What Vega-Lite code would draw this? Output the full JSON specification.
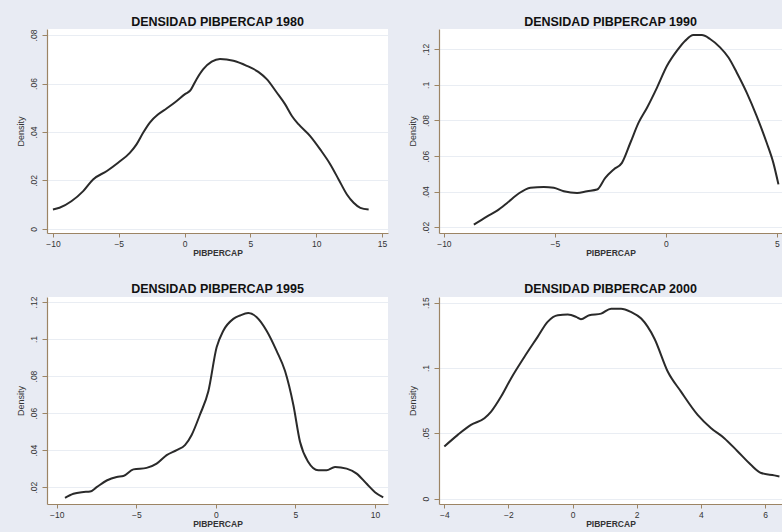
{
  "$schema": "https://vega.github.io/schema/vega-lite/v6.json",
  "background": "#e8ebf3",
  "padding": {"left": 16, "top": 15, "right": 40, "bottom": 40},
  "config": {
    "view": {"stroke": null, "fill": "white"},
    "title": {"font": "Liberation Sans", "fontSize": 12.5, "fontWeight": "bold", "color": "#111111", "offset": 1, "baseline": "alphabetic", "anchor": "middle", "frame": "group"},
    "axis": {"domainColor": "#9c8464", "tickColor": "#9c8464", "domainWidth": 1.2, "tickWidth": 1, "labelColor": "#333333", "labelFont": "Liberation Sans", "labelFontSize": 8.5, "titleFont": "Liberation Sans", "titleFontSize": 9, "titleFontWeight": "normal", "titleColor": "#333333", "grid": false},
    "axisX": {"tickSize": 4, "labelPadding": 2, "titlePadding": 1, "titleFontWeight": "bold", "titleFontSize": 8.5, "labelFlush": false},
    "axisY": {"grid": true, "gridColor": "#e9edf3", "tickSize": 5, "labelAngle": 270, "labelPadding": 4, "titlePadding": 4, "labelExpr": "datum.value == 0 ? '0' : replace(format(datum.value, '.2~f'), '0.', '.')"}
  },
  "datasets": {
    "dens": [
      {"p": "1980", "x": -10, "y": 0.008}, {"p": "1980", "x": -9.5, "y": 0.0087}, {"p": "1980", "x": -8.6, "y": 0.0114}, {"p": "1980", "x": -7.7, "y": 0.0156}, {"p": "1980", "x": -6.95, "y": 0.0204}, {"p": "1980", "x": -5.9, "y": 0.0239}, {"p": "1980", "x": -5.05, "y": 0.0273}, {"p": "1980", "x": -4.16, "y": 0.0314}, {"p": "1980", "x": -3.65, "y": 0.0349}, {"p": "1980", "x": -3.15, "y": 0.0397}, {"p": "1980", "x": -2.64, "y": 0.0439}, {"p": "1980", "x": -2.0, "y": 0.0473}, {"p": "1980", "x": -1.37, "y": 0.0497}, {"p": "1980", "x": -0.6, "y": 0.0528}, {"p": "1980", "x": 0.03, "y": 0.0556}, {"p": "1980", "x": 0.41, "y": 0.057}, {"p": "1980", "x": 0.91, "y": 0.0618}, {"p": "1980", "x": 1.42, "y": 0.0659}, {"p": "1980", "x": 2.06, "y": 0.069}, {"p": "1980", "x": 2.69, "y": 0.0701}, {"p": "1980", "x": 3.71, "y": 0.0694}, {"p": "1980", "x": 4.72, "y": 0.0673}, {"p": "1980", "x": 5.6, "y": 0.0648}, {"p": "1980", "x": 6.24, "y": 0.0618}, {"p": "1980", "x": 7.0, "y": 0.0563}, {"p": "1980", "x": 7.64, "y": 0.0514}, {"p": "1980", "x": 8.15, "y": 0.0466}, {"p": "1980", "x": 8.65, "y": 0.0432}, {"p": "1980", "x": 9.54, "y": 0.0383}, {"p": "1980", "x": 10.3, "y": 0.0328}, {"p": "1980", "x": 11.07, "y": 0.0266}, {"p": "1980", "x": 11.7, "y": 0.0204}, {"p": "1980", "x": 12.33, "y": 0.0142}, {"p": "1980", "x": 12.84, "y": 0.0108}, {"p": "1980", "x": 13.35, "y": 0.0087}, {"p": "1980", "x": 13.98, "y": 0.008},
      {"p": "1990", "x": -8.65, "y": 0.0215}, {"p": "1990", "x": -8.05, "y": 0.0262}, {"p": "1990", "x": -7.6, "y": 0.0294}, {"p": "1990", "x": -7.15, "y": 0.0337}, {"p": "1990", "x": -6.63, "y": 0.039}, {"p": "1990", "x": -6.1, "y": 0.0422}, {"p": "1990", "x": -5.5, "y": 0.0427}, {"p": "1990", "x": -5.05, "y": 0.0422}, {"p": "1990", "x": -4.6, "y": 0.0403}, {"p": "1990", "x": -4.0, "y": 0.0393}, {"p": "1990", "x": -3.55, "y": 0.0403}, {"p": "1990", "x": -3.1, "y": 0.0412}, {"p": "1990", "x": -2.73, "y": 0.0478}, {"p": "1990", "x": -2.35, "y": 0.0525}, {"p": "1990", "x": -1.98, "y": 0.0562}, {"p": "1990", "x": -1.6, "y": 0.0675}, {"p": "1990", "x": -1.23, "y": 0.0788}, {"p": "1990", "x": -0.85, "y": 0.0872}, {"p": "1990", "x": -0.4, "y": 0.0985}, {"p": "1990", "x": 0.05, "y": 0.1107}, {"p": "1990", "x": 0.5, "y": 0.1192}, {"p": "1990", "x": 0.87, "y": 0.1248}, {"p": "1990", "x": 1.24, "y": 0.128}, {"p": "1990", "x": 1.62, "y": 0.128}, {"p": "1990", "x": 1.99, "y": 0.1258}, {"p": "1990", "x": 2.44, "y": 0.1211}, {"p": "1990", "x": 2.82, "y": 0.1154}, {"p": "1990", "x": 3.19, "y": 0.107}, {"p": "1990", "x": 3.64, "y": 0.0957}, {"p": "1990", "x": 4.09, "y": 0.0825}, {"p": "1990", "x": 4.54, "y": 0.0675}, {"p": "1990", "x": 4.84, "y": 0.0562}, {"p": "1990", "x": 5.07, "y": 0.0441},
      {"p": "1995", "x": -9.48, "y": 0.0142}, {"p": "1995", "x": -8.95, "y": 0.0164}, {"p": "1995", "x": -8.43, "y": 0.0173}, {"p": "1995", "x": -7.9, "y": 0.0176}, {"p": "1995", "x": -7.49, "y": 0.02}, {"p": "1995", "x": -6.86, "y": 0.0236}, {"p": "1995", "x": -6.23, "y": 0.0255}, {"p": "1995", "x": -5.81, "y": 0.026}, {"p": "1995", "x": -5.18, "y": 0.0296}, {"p": "1995", "x": -4.35, "y": 0.0304}, {"p": "1995", "x": -3.72, "y": 0.0327}, {"p": "1995", "x": -3.09, "y": 0.0373}, {"p": "1995", "x": -2.46, "y": 0.04}, {"p": "1995", "x": -1.94, "y": 0.0427}, {"p": "1995", "x": -1.52, "y": 0.0482}, {"p": "1995", "x": -1.0, "y": 0.0591}, {"p": "1995", "x": -0.47, "y": 0.0718}, {"p": "1995", "x": 0.05, "y": 0.0955}, {"p": "1995", "x": 0.47, "y": 0.1045}, {"p": "1995", "x": 1.1, "y": 0.1109}, {"p": "1995", "x": 1.52, "y": 0.1127}, {"p": "1995", "x": 2.04, "y": 0.114}, {"p": "1995", "x": 2.57, "y": 0.1118}, {"p": "1995", "x": 3.19, "y": 0.1045}, {"p": "1995", "x": 3.82, "y": 0.0936}, {"p": "1995", "x": 4.35, "y": 0.0827}, {"p": "1995", "x": 4.87, "y": 0.0645}, {"p": "1995", "x": 5.29, "y": 0.0445}, {"p": "1995", "x": 5.81, "y": 0.0336}, {"p": "1995", "x": 6.44, "y": 0.0291}, {"p": "1995", "x": 6.96, "y": 0.0291}, {"p": "1995", "x": 7.49, "y": 0.0309}, {"p": "1995", "x": 8.22, "y": 0.03}, {"p": "1995", "x": 8.85, "y": 0.0273}, {"p": "1995", "x": 9.48, "y": 0.0218}, {"p": "1995", "x": 10.0, "y": 0.0173}, {"p": "1995", "x": 10.52, "y": 0.0145},
      {"p": "2000", "x": -4.0, "y": 0.0399}, {"p": "2000", "x": -3.58, "y": 0.0488}, {"p": "2000", "x": -3.17, "y": 0.0564}, {"p": "2000", "x": -2.75, "y": 0.0615}, {"p": "2000", "x": -2.54, "y": 0.0666}, {"p": "2000", "x": -2.23, "y": 0.0781}, {"p": "2000", "x": -1.92, "y": 0.092}, {"p": "2000", "x": -1.5, "y": 0.1086}, {"p": "2000", "x": -1.09, "y": 0.1238}, {"p": "2000", "x": -0.78, "y": 0.1353}, {"p": "2000", "x": -0.46, "y": 0.1404}, {"p": "2000", "x": -0.15, "y": 0.1409}, {"p": "2000", "x": 0.11, "y": 0.1391}, {"p": "2000", "x": 0.26, "y": 0.1373}, {"p": "2000", "x": 0.52, "y": 0.1404}, {"p": "2000", "x": 0.89, "y": 0.1416}, {"p": "2000", "x": 1.2, "y": 0.1454}, {"p": "2000", "x": 1.51, "y": 0.1454}, {"p": "2000", "x": 1.82, "y": 0.1429}, {"p": "2000", "x": 2.14, "y": 0.1378}, {"p": "2000", "x": 2.55, "y": 0.1226}, {"p": "2000", "x": 2.97, "y": 0.0971}, {"p": "2000", "x": 3.38, "y": 0.0819}, {"p": "2000", "x": 3.9, "y": 0.0641}, {"p": "2000", "x": 4.32, "y": 0.0539}, {"p": "2000", "x": 4.73, "y": 0.0463}, {"p": "2000", "x": 5.15, "y": 0.0361}, {"p": "2000", "x": 5.56, "y": 0.0259}, {"p": "2000", "x": 5.88, "y": 0.0196}, {"p": "2000", "x": 6.29, "y": 0.0178}, {"p": "2000", "x": 6.45, "y": 0.017}
    ]
  },
  "data": {"name": "dens"},
  "spacing": 25,
  "vconcat": [
    {
      "bounds": "flush",
      "spacing": 51,
      "hconcat": [
        {
          "title": "DENSIDAD PIBPERCAP 1980",
          "width": 341, "height": 204,
          "transform": [{"filter": "datum.p == '1980'"}],
          "mark": {"type": "line", "interpolate": "monotone", "color": "#2a2a2a", "strokeWidth": 2, "clip": true},
          "encoding": {
            "x": {"field": "x", "type": "quantitative", "scale": {"domain": [-10.45, 15.45], "nice": false, "zero": false}, "axis": {"values": [-10, -5, 0, 5, 10, 15], "title": "PIBPERCAP"}},
            "y": {"field": "y", "type": "quantitative", "scale": {"domain": [-0.0017, 0.0825], "nice": false, "zero": false}, "axis": {"values": [0, 0.02, 0.04, 0.06, 0.08], "title": "Density"}}
          }
        },
        {
          "title": "DENSIDAD PIBPERCAP 1990",
          "width": 343, "height": 204,
          "transform": [{"filter": "datum.p == '1990'"}],
          "mark": {"type": "line", "interpolate": "monotone", "color": "#2a2a2a", "strokeWidth": 2, "clip": true},
          "encoding": {
            "x": {"field": "x", "type": "quantitative", "scale": {"domain": [-10.22, 5.23], "nice": false, "zero": false}, "axis": {"values": [-10, -5, 0, 5], "title": "PIBPERCAP"}},
            "y": {"field": "y", "type": "quantitative", "scale": {"domain": [0.0168, 0.1314], "nice": false, "zero": false}, "axis": {"values": [0.02, 0.04, 0.06, 0.08, 0.1, 0.12], "title": "Density"}}
          }
        }
      ]
    },
    {
      "bounds": "flush",
      "spacing": 51,
      "hconcat": [
        {
          "title": "DENSIDAD PIBPERCAP 1995",
          "width": 341, "height": 207,
          "transform": [{"filter": "datum.p == '1995'"}],
          "mark": {"type": "line", "interpolate": "monotone", "color": "#2a2a2a", "strokeWidth": 2, "clip": true},
          "encoding": {
            "x": {"field": "x", "type": "quantitative", "scale": {"domain": [-10.61, 10.82], "nice": false, "zero": false}, "axis": {"values": [-10, -5, 0, 5, 10], "title": "PIBPERCAP"}},
            "y": {"field": "y", "type": "quantitative", "scale": {"domain": [0.0109, 0.1227], "nice": false, "zero": false}, "axis": {"values": [0.02, 0.04, 0.06, 0.08, 0.1, 0.12], "title": "Density"}}
          }
        },
        {
          "title": "DENSIDAD PIBPERCAP 2000",
          "width": 343, "height": 207,
          "transform": [{"filter": "datum.p == '2000'"}],
          "mark": {"type": "line", "interpolate": "monotone", "color": "#2a2a2a", "strokeWidth": 2, "clip": true},
          "encoding": {
            "x": {"field": "x", "type": "quantitative", "scale": {"domain": [-4.166, 6.53], "nice": false, "zero": false}, "axis": {"values": [-4, -2, 0, 2, 4, 6], "title": "PIBPERCAP"}},
            "y": {"field": "y", "type": "quantitative", "scale": {"domain": [-0.0041, 0.1543], "nice": false, "zero": false}, "axis": {"values": [0, 0.05, 0.1, 0.15], "title": "Density"}}
          }
        }
      ]
    }
  ]
}
